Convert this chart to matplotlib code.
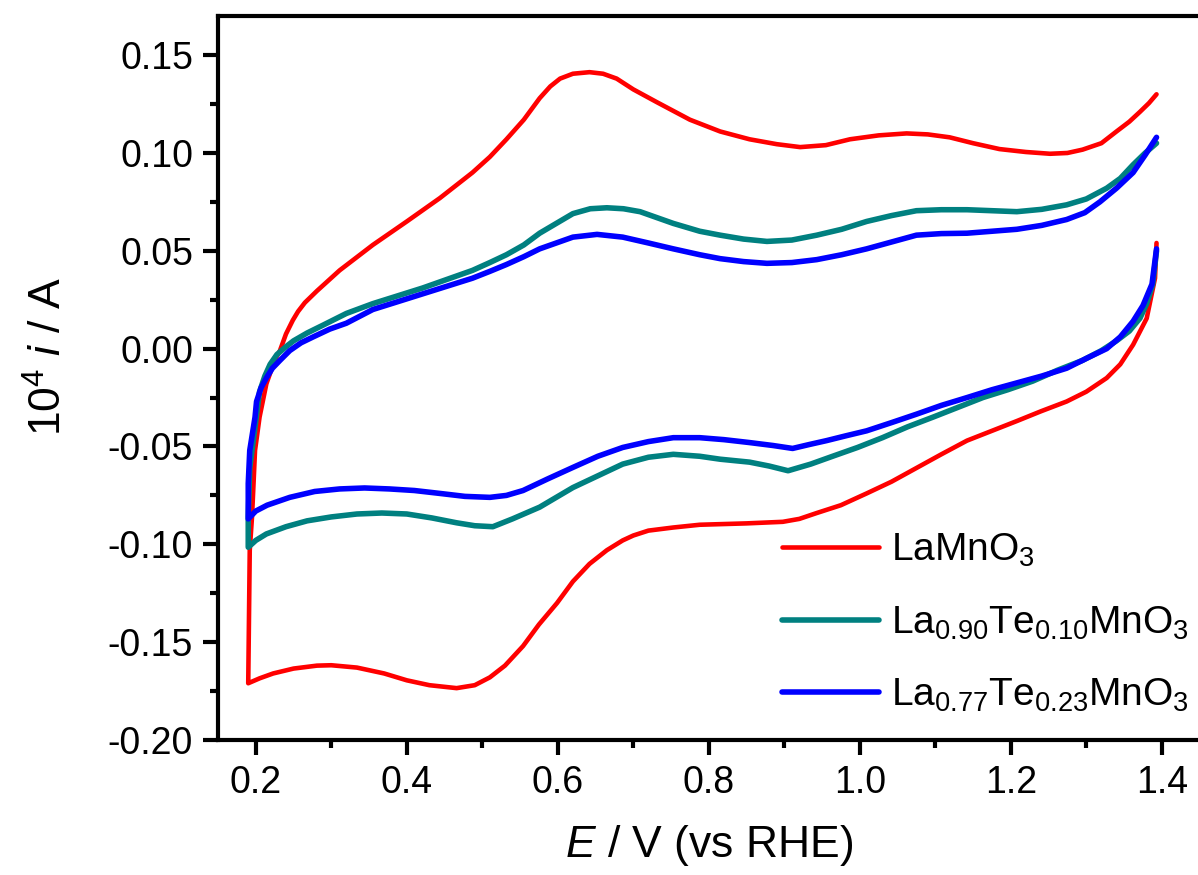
import matplotlib

matplotlib.use("Agg")
import matplotlib.pyplot as plt  # noqa: E402
from matplotlib.ticker import MultipleLocator, FormatStrFormatter  # noqa: E402

plt.rcParams["font.family"] = ["Liberation Sans", "DejaVu Sans"]
plt.rcParams["mathtext.fontset"] = "custom"
plt.rcParams["mathtext.rm"] = "Liberation Sans"
plt.rcParams["mathtext.it"] = "Liberation Sans:italic"

# LaMnO3: cathodic sweep (1.39 -> 0.19 V) then anodic sweep (0.19 -> 1.39 V)
lamno_e = [1.393, 1.391, 1.380, 1.362, 1.345, 1.327, 1.300, 1.274, 1.240, 1.208,
           1.175, 1.142, 1.108, 1.075, 1.042, 1.009, 0.975, 0.943, 0.920, 0.898,
           0.850, 0.788, 0.753, 0.720, 0.700, 0.686, 0.665, 0.642, 0.620, 0.599,
           0.575, 0.554, 0.530, 0.510, 0.490, 0.466, 0.430, 0.400, 0.370, 0.334,
           0.300, 0.281, 0.250, 0.223, 0.205, 0.190,
           0.192, 0.195, 0.199, 0.205, 0.214, 0.225, 0.232, 0.240, 0.249, 0.256,
           0.265, 0.281, 0.311, 0.333, 0.355, 0.400, 0.444, 0.487, 0.510, 0.532,
           0.555, 0.576, 0.590, 0.603, 0.620, 0.642, 0.660, 0.678, 0.700, 0.731,
           0.775, 0.815, 0.854, 0.890, 0.921, 0.955, 0.987, 1.025, 1.062, 1.090,
           1.119, 1.150, 1.185, 1.220, 1.252, 1.275, 1.295, 1.320, 1.340, 1.357,
           1.371, 1.383, 1.393]
lamno_i = [0.054, 0.036, 0.0155, 0.002, -0.008, -0.015, -0.022, -0.027, -0.032, -0.037,
           -0.042, -0.047, -0.054, -0.061, -0.068, -0.074, -0.080, -0.084, -0.087, -0.0885,
           -0.0893, -0.090, -0.0914, -0.093, -0.0955, -0.098, -0.103, -0.110, -0.119, -0.130,
           -0.141, -0.152, -0.162, -0.168, -0.172, -0.1735, -0.172, -0.1695, -0.166, -0.163,
           -0.1618, -0.162, -0.1635, -0.166, -0.1685, -0.171,
           -0.103, -0.086, -0.052, -0.035, -0.018, -0.006, -0.001, 0.0075, 0.0145, 0.019,
           0.0235, 0.0295, 0.040, 0.0465, 0.053, 0.065, 0.077, 0.090, 0.098, 0.107,
           0.117, 0.128, 0.134, 0.138, 0.1405, 0.1413, 0.1405, 0.138, 0.1325, 0.126,
           0.117, 0.111, 0.107, 0.1045, 0.103, 0.104, 0.107, 0.109, 0.110, 0.1095,
           0.108, 0.105, 0.102, 0.1005, 0.0996, 0.100, 0.1017, 0.105, 0.111, 0.116,
           0.121, 0.1255, 0.130]

# La0.90Te0.10MnO3
te10_e = [1.393, 1.388, 1.380, 1.371, 1.357, 1.340, 1.320, 1.295, 1.262, 1.229,
          1.196, 1.163, 1.130, 1.097, 1.063, 1.030, 0.997, 0.964, 0.935, 0.905,
          0.880, 0.854, 0.815, 0.788, 0.753, 0.720, 0.686, 0.653, 0.620, 0.598,
          0.576, 0.558, 0.540, 0.514, 0.490, 0.466, 0.433, 0.400, 0.367, 0.334,
          0.300, 0.268, 0.240, 0.214, 0.200, 0.190,
          0.190, 0.192, 0.199, 0.205, 0.212, 0.219, 0.228, 0.240, 0.250, 0.268,
          0.289, 0.320, 0.355, 0.388, 0.421, 0.454, 0.487, 0.510, 0.532, 0.555,
          0.576, 0.598, 0.620, 0.643, 0.665, 0.687, 0.709, 0.731, 0.753, 0.788,
          0.815, 0.846, 0.877, 0.910, 0.943, 0.976, 1.009, 1.042, 1.075, 1.108,
          1.142, 1.175, 1.208, 1.241, 1.274, 1.300, 1.327, 1.345, 1.362, 1.378,
          1.393]
te10_i = [0.050, 0.033, 0.023, 0.0155, 0.009, 0.004, -0.001, -0.006, -0.011, -0.0166,
          -0.021, -0.025, -0.030, -0.035, -0.040, -0.0455, -0.0505, -0.055, -0.059, -0.0624,
          -0.060, -0.058, -0.0565, -0.055, -0.054, -0.0555, -0.059, -0.065, -0.071, -0.076,
          -0.081, -0.084, -0.087, -0.091, -0.0905, -0.089, -0.0865, -0.0845, -0.084, -0.0845,
          -0.086, -0.088, -0.091, -0.0947, -0.098, -0.1015,
          -0.086, -0.061, -0.040, -0.022, -0.014, -0.008, -0.003, 0.001, 0.004, 0.008,
          0.012, 0.018, 0.023, 0.027, 0.031, 0.0355, 0.040, 0.044, 0.048, 0.053,
          0.059, 0.064, 0.069, 0.0715, 0.072, 0.0715, 0.070, 0.067, 0.064, 0.060,
          0.058, 0.056, 0.0548, 0.0555, 0.058, 0.061, 0.065, 0.068, 0.0705, 0.071,
          0.071, 0.0705, 0.070, 0.0712, 0.0735, 0.0765, 0.082, 0.087, 0.094, 0.100,
          0.105]

# La0.77Te0.23MnO3
te23_e = [1.393, 1.387, 1.375, 1.362, 1.345, 1.327, 1.300, 1.274, 1.241, 1.208,
          1.175, 1.142, 1.108, 1.075, 1.042, 1.009, 0.982, 0.956, 0.933, 0.911,
          0.885, 0.854, 0.820, 0.788, 0.753, 0.720, 0.686, 0.653, 0.620, 0.587,
          0.554, 0.532, 0.510, 0.477, 0.444, 0.410, 0.377, 0.344, 0.311, 0.278,
          0.245, 0.215, 0.200, 0.190,
          0.190, 0.192, 0.199, 0.201, 0.207, 0.214, 0.222, 0.232, 0.245, 0.260,
          0.276, 0.298, 0.320, 0.355, 0.388, 0.421, 0.454, 0.487, 0.510, 0.532,
          0.555, 0.576, 0.598, 0.620, 0.652, 0.686, 0.720, 0.753, 0.788, 0.815,
          0.846, 0.877, 0.910, 0.943, 0.976, 1.009, 1.042, 1.075, 1.108, 1.142,
          1.175, 1.208, 1.241, 1.274, 1.298, 1.318, 1.340, 1.362, 1.378, 1.393]
te23_i = [0.051, 0.033, 0.022, 0.014, 0.006, 0.000, -0.005, -0.010, -0.014, -0.0175,
          -0.021, -0.025, -0.029, -0.0335, -0.0378, -0.042, -0.0445, -0.047, -0.049, -0.051,
          -0.0495, -0.048, -0.0465, -0.0455, -0.0455, -0.0475, -0.0505, -0.055, -0.0607, -0.0665,
          -0.0725, -0.075, -0.076, -0.0755, -0.074, -0.0725, -0.0717, -0.0712, -0.0717, -0.073,
          -0.076, -0.080, -0.083, -0.087,
          -0.069, -0.052, -0.035, -0.027, -0.020, -0.015, -0.010, -0.006, -0.001, 0.003,
          0.006, 0.010, 0.013, 0.020, 0.024, 0.028, 0.032, 0.036, 0.0395, 0.043,
          0.047, 0.051, 0.054, 0.057, 0.0584, 0.057, 0.054, 0.051, 0.048, 0.046,
          0.0445, 0.0436, 0.044, 0.0455, 0.048, 0.051, 0.0545, 0.058, 0.0588, 0.059,
          0.060, 0.061, 0.063, 0.066, 0.0695, 0.075, 0.082, 0.090, 0.099, 0.108]

series = [
    (lamno_e, lamno_i, "#ff0000", 3.3, r"LaMnO$_3$"),
    (te10_e, te10_i, "#008080", 4.0, r"La$_{0.90}$Te$_{0.10}$MnO$_3$"),
    (te23_e, te23_i, "#0000ff", 4.0, r"La$_{0.77}$Te$_{0.23}$MnO$_3$"),
]

fig = plt.figure(figsize=(11.98, 8.75), dpi=100)
ax = fig.add_axes([0.182, 0.1543, 0.8193, 0.8274])

for e, i, color, lw, label in series:
    ax.plot(e, i, color=color, lw=lw, label=label,
            solid_joinstyle="round", solid_capstyle="round")

ax.set_xlim(0.15, 1.45)
ax.set_ylim(-0.20, 0.17)
ax.xaxis.set_major_locator(MultipleLocator(0.2))
ax.xaxis.set_minor_locator(MultipleLocator(0.1))
ax.yaxis.set_major_locator(MultipleLocator(0.05))
ax.yaxis.set_minor_locator(MultipleLocator(0.025))
ax.xaxis.set_major_formatter(FormatStrFormatter("%.1f"))
ax.yaxis.set_major_formatter(FormatStrFormatter("%.2f"))

for side in ("left", "bottom", "top"):
    ax.spines[side].set_linewidth(3.0)
ax.spines["right"].set_visible(False)
ax.tick_params(which="both", direction="out", width=3.0, top=False, right=False)
ax.tick_params(which="major", length=11, labelsize=27, pad=7)
ax.tick_params(which="minor", length=6)

ax.set_xlabel(r"$E$ / V (vs RHE)", fontsize=32)
ax.set_ylabel(r"10$^4$ $i$ / A", fontsize=32)
ax.xaxis.set_label_coords(0.5, -0.115)
ax.yaxis.set_label_coords(-0.15, 0.53)

ax.legend(loc="upper left", bbox_to_anchor=(782 / 1198, 1 - 532 / 875),
          bbox_transform=fig.transFigure, frameon=False, fontsize=28,
          handlelength=2.5, handletextpad=0.3, borderpad=0, borderaxespad=0,
          labelspacing=0.9)

fig.savefig("out.png", dpi=100)
